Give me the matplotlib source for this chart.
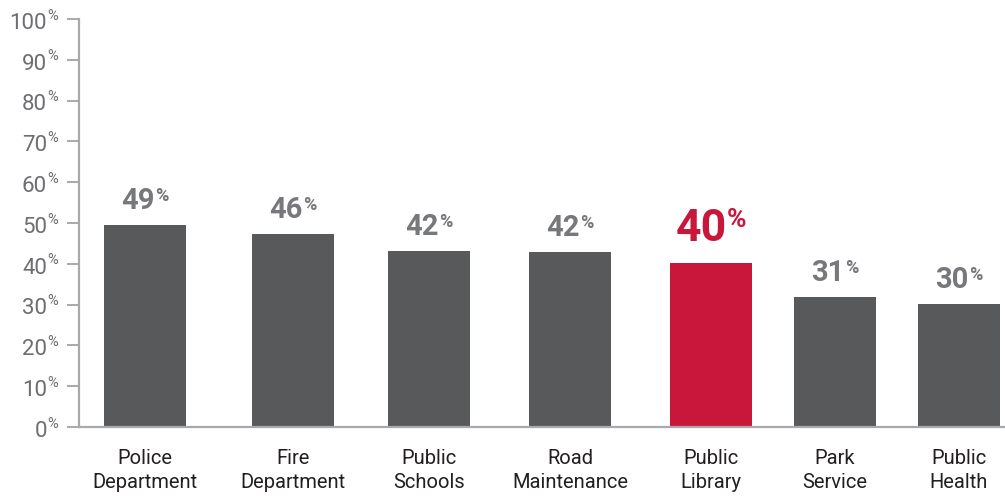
import matplotlib
matplotlib.use("Agg")
import matplotlib.pyplot as plt
from matplotlib.offsetbox import TextArea, HPacker, AnnotationBbox

# data
services = ["Police\nDepartment", "Fire\nDepartment", "Public\nSchools",
            "Road\nMaintenance", "Public\nLibrary", "Park\nService", "Public\nHealth"]
shares = [49.5, 47.3, 43.2, 43.0, 40.3, 31.9, 30.1]
share_labels = ["49", "46", "42", "42", "40", "31", "30"]
highlight = "Public\nLibrary"
yticks = [0, 10, 20, 30, 40, 50, 60, 70, 80, 90, 100]

# layout (bar slots, not evenly spaced in the original)
slots = [0, 1.091, 2.093, 3.133, 4.172, 5.086, 6.0]

GREY_BAR = "#58595b"
RED = "#c8173a"
AXIS = "#a7a9ac"
TICK_TXT = "#6d6e71"
VAL_TXT = "#77787b"
CAT_TXT = "#231f20"
FONT = "Roboto"

plt.rcParams["font.family"] = [FONT, "DejaVu Sans"]

fig = plt.figure(figsize=(10.05, 4.96), dpi=100)
ax = fig.add_axes([79 / 1005, 1 - 427 / 496, 926 / 1005, 408 / 496])

colors = [RED if s == highlight else GREY_BAR for s in services]
ax.bar(slots, shares, width=0.604, color=colors, zorder=2)

ax.set_xlim(-0.4865, 6.339)
ax.set_ylim(0, 100)

for side in ["top", "right"]:
    ax.spines[side].set_visible(False)
for side in ["left", "bottom"]:
    ax.spines[side].set_color(AXIS)
    ax.spines[side].set_linewidth(1.6)

ax.set_xticks(slots)
ax.set_xticklabels(services, fontsize=14.5, color=CAT_TXT, linespacing=1.3)
ax.tick_params(axis="x", length=0, pad=16)

ax.set_yticks(yticks)
ax.set_yticklabels([])
ax.tick_params(axis="y", length=8.5, width=1.4, color=AXIS)

# y tick labels with superscript %
for v in yticks:
    ax.annotate(str(v), (0, v), xycoords=("axes fraction", "data"),
                xytext=(-23, -7), textcoords="offset points",
                ha="right", va="baseline", fontsize=16, color=TICK_TXT)
    ax.annotate("%", (0, v), xycoords=("axes fraction", "data"),
                xytext=(-22.5, 7.5), textcoords="offset points",
                ha="left", va="top", fontsize=10.5, color=TICK_TXT)

# value labels above bars
for x, h, lab, s in zip(slots, shares, share_labels, services):
    if s == highlight:
        big, small, col, gap = 32, 19, RED, 9
    else:
        big, small, col, gap = 21, 13, VAL_TXT, 7
    num = TextArea(lab, textprops=dict(fontsize=big, fontweight="bold",
                                       color=col, family=FONT))
    pct = TextArea("%", textprops=dict(fontsize=small, fontweight="bold",
                                       color=col, family=FONT))
    box = HPacker(children=[num, pct], align="top", pad=0, sep=0.5)
    ab = AnnotationBbox(box, (x, h), xybox=(0, gap), xycoords="data",
                        boxcoords="offset points", box_alignment=(0.5, 0),
                        frameon=False, pad=0)
    ax.add_artist(ab)

fig.savefig("out.png", dpi=100)
